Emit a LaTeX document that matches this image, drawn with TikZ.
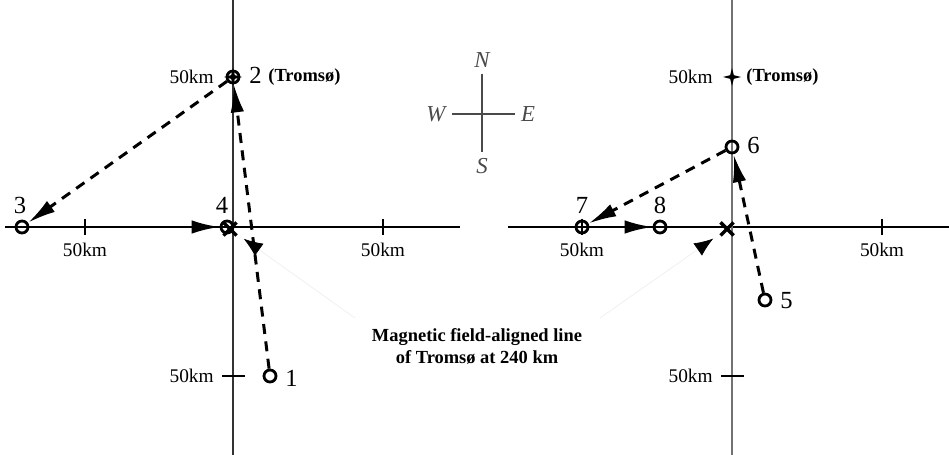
\documentclass[tikz,border=0pt]{standalone}
\usepackage{fontspec}
\setmainfont{Liberation Serif}
\usetikzlibrary{arrows.meta, shapes.geometric, shapes.misc}
\definecolor{cgrey}{HTML}{4A4A4A}
\definecolor{cfaint}{HTML}{EEEEEE}
\tikzset{
  every picture/.style={line width=0.6pt},
  axis/.style={draw=black, line width=0.6pt},
  pt/.style={circle, draw, line width=1.6pt, minimum size=0.24cm, inner sep=0pt},
  num/.style={font=\fontsize{14}{16}\selectfont},
  km/.style={font=\fontsize{11}{13}\selectfont},
  track/.style={line width=1.7pt, dash pattern=on 0.2cm off 0.15cm, -{Latex[length=0.56cm, width=0.27cm]}},
  fieldline/.style={draw=cfaint, line width=0.4pt, -{Latex[length=0.38cm, width=0.3cm, color=black]}},
}

\begin{document}
\begin{tikzpicture}[x=0.02cm, y=-0.02cm,
  tromso/.style={star, star points=4, star point ratio=3.5, fill, minimum size=0.36cm, inner sep=0pt},
  xmark/.style={cross out, draw, line width=2pt, minimum size=0.19cm, inner sep=0pt},
  dir/.style={font=\fontsize{13}{15}\selectfont\itshape, text=cgrey}]
  \useasboundingbox (0,0) rectangle (949,455);
  % left panel axes
  \draw[axis] (5,227) -- (460,227); \draw[axis, draw=black!80] (233,0) -- (233,455);
  \foreach \x in {85,383} {\draw[axis] (\x,219) -- (\x,235); \node[km] at (\x,250) {50km};}
  \draw[axis] (222,376) -- (245,376);
  \foreach \y in {77,376} {\node[km, anchor=east] at (220,\y) {50km};}
  % right panel axes
  \draw[axis] (508,227) -- (949,227); \draw[axis, draw=black!55] (732,0) -- (732,455);
  \foreach \x in {582,882} {\draw[axis] (\x,219) -- (\x,235); \node[km] at (\x,250) {50km};}
  \draw[axis] (721,376) -- (744,376);
  \foreach \y in {77,376} {\node[km, anchor=east] at (719,\y) {50km};}
  % Tromso
  \node[tromso] (tl) at (233,77) {};
  \node[tromso] (tr) at (732,77) {};
  \node[km, font=\fontsize{10.5}{12}\selectfont\bfseries, anchor=west] at (262,77) {(Tromsø)};
  \node[km, font=\fontsize{10.5}{12}\selectfont\bfseries, anchor=west] at (740,77) {(Tromsø)};
  % points
  \node[pt] (p1) at (270,376) {}; \node[num, anchor=west] at (279,378) {1};
  \node[pt] (p2) at (233,77) {};  \node[num, anchor=west] at (243,75) {2};
  \node[pt] (p3) at (22,227) {};  \node[num] at (20,205) {3};
  \node[xmark] (xl) at (230,229) {};
  \node[pt] (p4) at (227,227) {}; \node[num] at (222,205) {4};
  \node[pt] (p5) at (765,300) {}; \node[num, anchor=west] at (774,301) {5};
  \node[pt] (p6) at (732,147) {}; \node[num, anchor=west] at (741,145) {6};
  \node[pt] (p7) at (582,227) {}; \node[num] at (582,205) {7};
  \node[pt] (p8) at (660,227) {}; \node[num] at (660,205) {8};
  \node[xmark] (xr) at (727,229) {};
  % tracks
  \draw[track] (p1) -- (p2); \draw[track] (p2) -- (p3); \draw[track] (p3) -- (p4);
  \draw[track] (p5) -- (p6); \draw[track] (p6) -- (p7); \draw[track] (p7) -- (p8);
  % field-aligned line
  \node[font=\fontsize{10.5}{12.5}\selectfont\bfseries, align=center] (fl) at (477,346) {Magnetic field-aligned line\\of Tromsø at 240 km};
  \coordinate (fa) at (355,318); \coordinate (fb) at (600,318);
  \draw[fieldline, shorten >=5pt] (fa) -- (xl);
  \draw[fieldline, shorten >=5pt] (fb) -- (xr);
  % compass
  \node[dir] (cn) at (482,60) {N}; \node[dir] (cs) at (482,166) {S};
  \node[dir] (cw) at (436,114) {W}; \node[dir] (ce) at (528,114) {E};
  \draw[cgrey, line width=1.3pt] (cn) -- (cs); \draw[cgrey, line width=1.3pt] (cw) -- (ce);
\end{tikzpicture}
\end{document}
